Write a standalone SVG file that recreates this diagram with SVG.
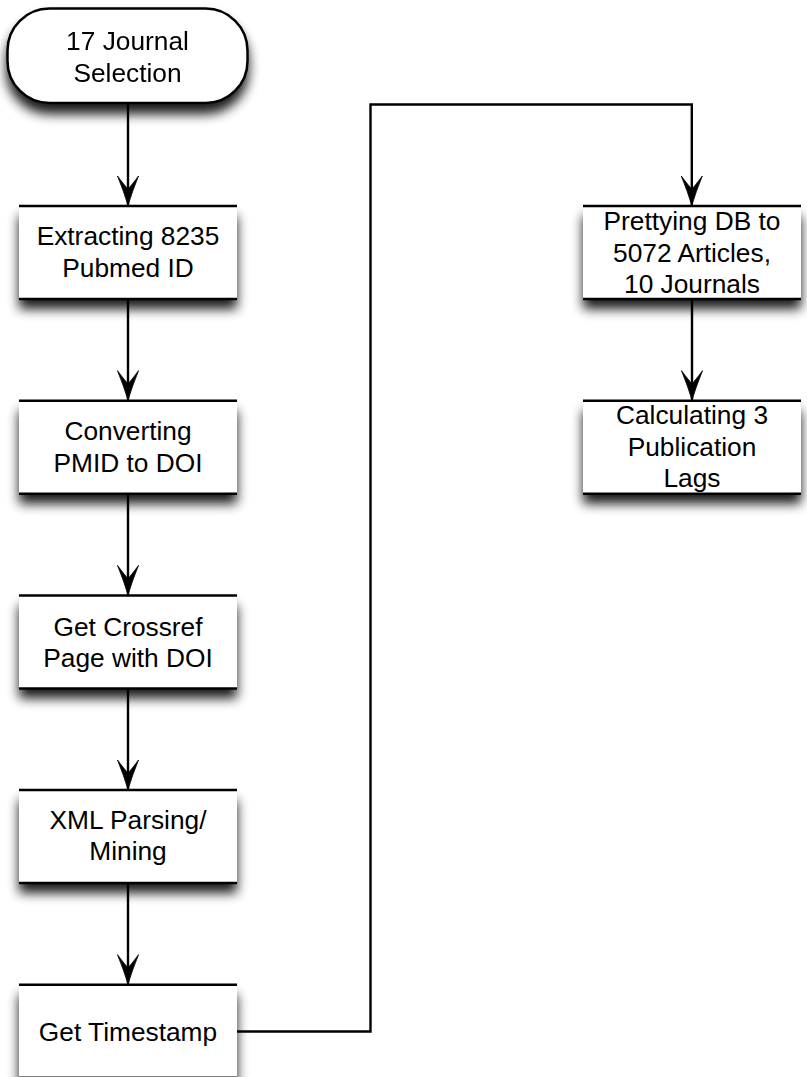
<svg xmlns="http://www.w3.org/2000/svg" width="807" height="1077" viewBox="0 0 807 1077">
  <style>
    .label { font-family: "Liberation Sans", Arial, Helvetica, sans-serif; font-size: 26.3px; fill: #000; text-anchor: middle; }
    .body { fill: #fff; stroke: none; }
    .edge { stroke: #000; stroke-width: 2.5; fill: none; }
    .term { fill: #fff; stroke: #000; stroke-width: 2.5; }
    .wire { fill: none; stroke: #000; stroke-width: 2.4; }
  </style>
  <defs>
    <filter id="drop" x="-20%" y="-20%" width="140%" height="170%">
      <feGaussianBlur in="SourceAlpha" stdDeviation="6"/>
      <feOffset dx="0" dy="10" result="b"/>
      <feComponentTransfer><feFuncA type="linear" slope="0.9"/></feComponentTransfer>
      <feMerge><feMergeNode/><feMergeNode in="SourceGraphic"/></feMerge>
    </filter>
    <marker id="head" markerUnits="userSpaceOnUse" markerWidth="34" markerHeight="26" viewBox="-32 -13 34 26" refX="0" refY="0" orient="auto">
      <!-- notched arrowhead, tip at the origin -->
      <path d="M0.5,0 Q-13,-4 -29,-10.5 Q-19,-3 -16,0 Q-19,3 -29,10.5 Q-13,4 0.5,0 Z" fill="#000" stroke="#000" stroke-width="0.8" stroke-linejoin="round"/>
    </marker>
  </defs>

  <!-- process steps -->
  <g id="start" filter="url(#drop)">
    <rect class="term" x="7.5" y="8.5" width="240" height="94.5" rx="42" ry="42"/>
    <text class="label" x="127.5" y="50">17 Journal</text>
    <text class="label" x="127.5" y="81.5">Selection</text>
  </g>

  <g id="extract">
    <rect class="body" x="19" y="206" width="218" height="93" filter="url(#drop)"/>
    <line class="edge" x1="19" y1="206" x2="237" y2="206"/>
    <line class="edge" x1="19" y1="299" x2="237" y2="299"/>
    <text class="label" x="128" y="245">Extracting 8235</text>
    <text class="label" x="128" y="276.5">Pubmed ID</text>
  </g>

  <g id="convert">
    <rect class="body" x="19" y="400.7" width="218" height="93" filter="url(#drop)"/>
    <line class="edge" x1="19" y1="400.7" x2="237" y2="400.7"/>
    <line class="edge" x1="19" y1="493.7" x2="237" y2="493.7"/>
    <text class="label" x="128" y="440">Converting</text>
    <text class="label" x="128" y="472">PMID to DOI</text>
  </g>

  <g id="crossref">
    <rect class="body" x="19" y="595.4" width="218" height="93" filter="url(#drop)"/>
    <line class="edge" x1="19" y1="595.4" x2="237" y2="595.4"/>
    <line class="edge" x1="19" y1="688.4" x2="237" y2="688.4"/>
    <text class="label" x="128" y="636">Get Crossref</text>
    <text class="label" x="128" y="667">Page with DOI</text>
  </g>

  <g id="xml">
    <rect class="body" x="19" y="790" width="218" height="93" filter="url(#drop)"/>
    <line class="edge" x1="19" y1="790" x2="237" y2="790"/>
    <line class="edge" x1="19" y1="883" x2="237" y2="883"/>
    <text class="label" x="128" y="828.5">XML Parsing/</text>
    <text class="label" x="128" y="860">Mining</text>
  </g>

  <g id="timestamp">
    <rect class="body" x="19" y="984.7" width="218" height="93" filter="url(#drop)"/>
    <line class="edge" x1="19" y1="984.7" x2="237" y2="984.7"/>
    <line class="edge" x1="19" y1="1077.7" x2="237" y2="1077.7"/>
    <text class="label" x="128" y="1040.5">Get Timestamp</text>
  </g>

  <g id="pretty">
    <rect class="body" x="583" y="206" width="218" height="93" filter="url(#drop)"/>
    <line class="edge" x1="583" y1="206" x2="801" y2="206"/>
    <line class="edge" x1="583" y1="299" x2="801" y2="299"/>
    <text class="label" x="692" y="230">Prettying DB to</text>
    <text class="label" x="692" y="261.5">5072 Articles,</text>
    <text class="label" x="692" y="293">10 Journals</text>
  </g>

  <g id="lags">
    <rect class="body" x="583" y="400.7" width="218" height="93" filter="url(#drop)"/>
    <line class="edge" x1="583" y1="400.7" x2="801" y2="400.7"/>
    <line class="edge" x1="583" y1="493.7" x2="801" y2="493.7"/>
    <text class="label" x="692" y="423.5">Calculating 3</text>
    <text class="label" x="692" y="455.5">Publication</text>
    <text class="label" x="692" y="487">Lags</text>
  </g>

  <!-- connectors -->
  <g id="connectors">
    <path class="wire" d="M128,103 V205" marker-end="url(#head)"/>
    <path class="wire" d="M128,299 V399.7" marker-end="url(#head)"/>
    <path class="wire" d="M128,493.7 V594.4" marker-end="url(#head)"/>
    <path class="wire" d="M128,688.4 V789" marker-end="url(#head)"/>
    <path class="wire" d="M128,883 V983.7" marker-end="url(#head)"/>
    <path class="wire" d="M237,1031.5 H370.5 V104.5 H691.8 V205" marker-end="url(#head)"/>
    <path class="wire" d="M692,299 V399.7" marker-end="url(#head)"/>
  </g>
</svg>
